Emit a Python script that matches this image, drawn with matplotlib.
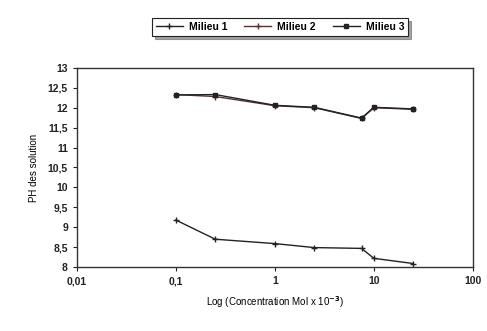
import matplotlib
matplotlib.use("Agg")
import matplotlib.pyplot as plt
from matplotlib.ticker import FuncFormatter, FixedLocator

# Données
concentration = [0.1, 0.25, 1, 2.5, 7.5, 10, 25]
milieu_1 = [9.18, 8.70, 8.59, 8.49, 8.47, 8.22, 8.09]
milieu_2 = [12.33, 12.28, 12.05, 12.00, 11.73, 12.00, 11.96]
milieu_3 = [12.32, 12.33, 12.06, 12.01, 11.74, 12.01, 11.97]

plt.rcParams['font.family'] = ['Liberation Sans', 'DejaVu Sans']
plt.rcParams['font.weight'] = 'bold'

fig = plt.figure(figsize=(4.87, 3.31), dpi=100)
ax = fig.add_axes([0.158, 0.193, 0.813, 0.602])

ax.plot(concentration, milieu_1, color='#222222', lw=1.0, marker='+', ms=4, mew=1.0, label='Milieu 1')
ax.plot(concentration, milieu_2, color='#553333', lw=1.0, marker='+', ms=4, mew=1.0, label='Milieu 2')
ax.plot(concentration, milieu_3, color='#222222', lw=1.0, marker='s', ms=2.5, label='Milieu 3')

ax.set_xscale('log')
ax.set_xlim(0.01, 100)
ax.set_ylim(8, 13)
ax.xaxis.set_major_locator(FixedLocator([0.01, 0.1, 1, 10, 100]))
ax.xaxis.set_minor_locator(FixedLocator([]))
ax.xaxis.set_major_formatter(FuncFormatter(lambda v, p: ('%g' % v).replace('.', ',')))
ax.set_yticks([8 + 0.5 * i for i in range(11)])
ax.yaxis.set_major_formatter(FuncFormatter(lambda v, p: ('%g' % v).replace('.', ',')))
ax.tick_params(labelsize=7.5, length=3, width=0.8, direction='out', colors='#222222')

for s in ax.spines.values():
    s.set_color('#333333')
    s.set_linewidth(1.0)

ax.set_ylabel('PH des solution', fontsize=7, labelpad=6)
ax.set_xlabel('Log (Concentration Mol x 10$^{-3}$)', fontsize=7, labelpad=6)

leg = fig.legend(loc='center', bbox_to_anchor=(0.575, 0.918), ncol=3, fontsize=7.5,
                 frameon=True, fancybox=False, shadow=True, handlelength=2.6,
                 columnspacing=1.6, borderpad=0.35, handletextpad=0.6)
leg.get_frame().set_edgecolor('#222222')
leg.get_frame().set_linewidth(0.8)

fig.savefig('out.png', dpi=100)
